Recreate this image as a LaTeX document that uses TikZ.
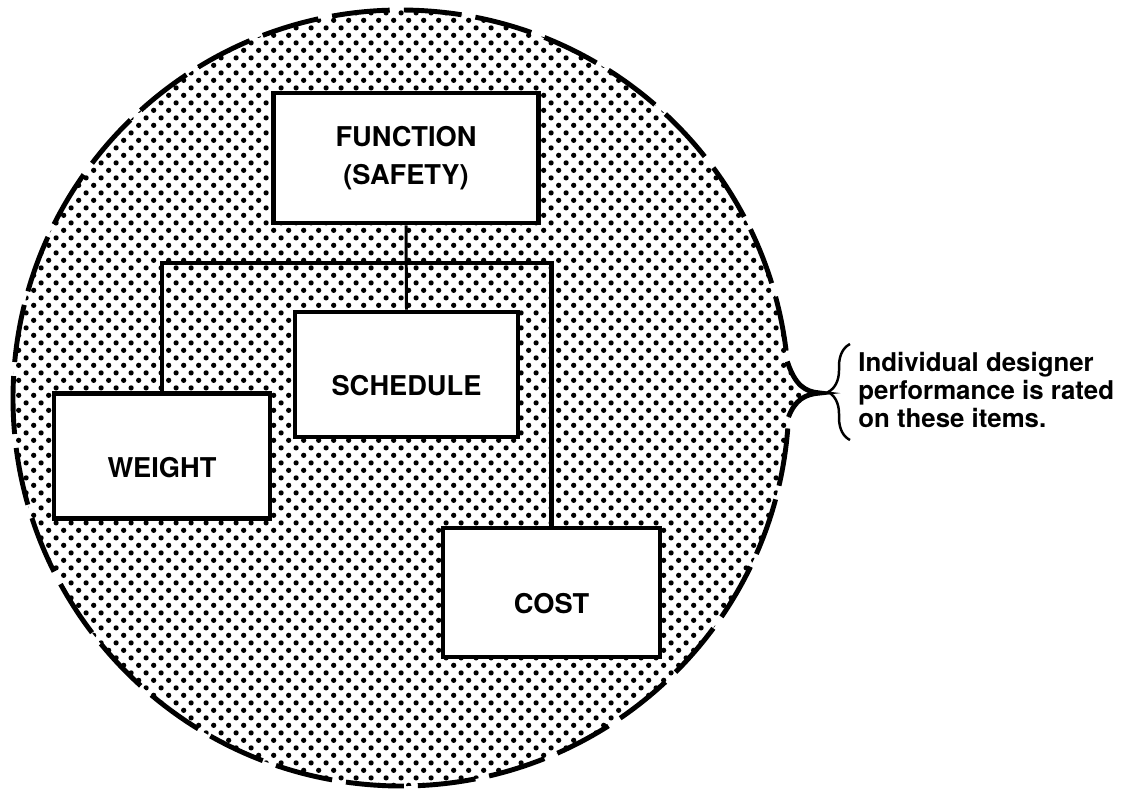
\documentclass[tikz,border=0pt]{standalone}
\usepackage{fontspec}
\setmainfont{TeX Gyre Heros}
\usetikzlibrary{patterns,calc,decorations.pathreplacing}
\pgfdeclarepatternformonly{stipple}{\pgfqpoint{0pt}{0pt}}{\pgfqpoint{8.5pt}{8.5pt}}{\pgfqpoint{8.5pt}{8.5pt}}{%
  \pgfpathcircle{\pgfqpoint{2.1pt}{2.1pt}}{1.5pt}%
  \pgfpathcircle{\pgfqpoint{6.35pt}{6.35pt}}{1.5pt}%
  \pgfusepath{fill}}
\begin{document}
\begin{tikzpicture}[x=0.02cm,y=-0.02cm,
  box/.style={draw,fill=white,line width=2.8pt,align=center,font=\fontsize{15.5}{22}\selectfont\bfseries},
  lowtext/.style={text height=24pt,text depth=0pt},
  link/.style={line width=2.6pt},
  stem/.style={line width=1.7pt},
  rim/.style={line width=2.8pt,dash pattern=on 33pt off 8pt},
  notch/.style={line width=2.8pt},
  curly/.style={decorate,decoration={brace,amplitude=12.5pt},line width=1.4pt},
  note/.style={align=left,inner sep=0pt,font=\fontsize{14.7}{15.9}\selectfont\bfseries}]
\useasboundingbox (0,0) rectangle (1122,789);
\coordinate (ctr) at (401,398);
\path[pattern=stipple] (ctr) ++(-5.4:388) .. controls (795,385) and (805,392) .. (820,393) .. controls (805,394) and (795,400) .. (788.5,417) arc[start angle=2.8,end angle=354.6,radius=388] -- cycle;
\draw[rim] (ctr) ++(4.5:388) arc[start angle=4.5,end angle=353,radius=388];
\draw[notch] (787.3,361.5) .. controls (795,385) and (805,392) .. (820,393) .. controls (805,394) and (795,400) .. (788.5,417);
\node[box,minimum width=5.3cm,minimum height=2.6cm] (func) at (406,158) {FUNCTION\\(SAFETY)};
\node[box,lowtext,minimum width=4.46cm,minimum height=2.5cm] (sched) at (406.5,374.5) {SCHEDULE};
\node[box,lowtext,minimum width=4.32cm,minimum height=2.5cm] (weight) at (162,456) {WEIGHT};
\node[box,lowtext,minimum width=4.34cm,minimum height=2.58cm] (cost) at (551.5,592.5) {COST};
\coordinate (bar) at (406,263);
\draw[link] (weight.north) |- (bar) -| (cost.north);
\draw[stem] (func.south) -- (sched.north);
\node[note,anchor=west] (note) at (858,390) {Individual designer\\performance is rated\\on these items.};
\draw[curly] ($(note.west)+(-8,50)$) -- ($(note.west)+(-8,-46)$);
\end{tikzpicture}
\end{document}
